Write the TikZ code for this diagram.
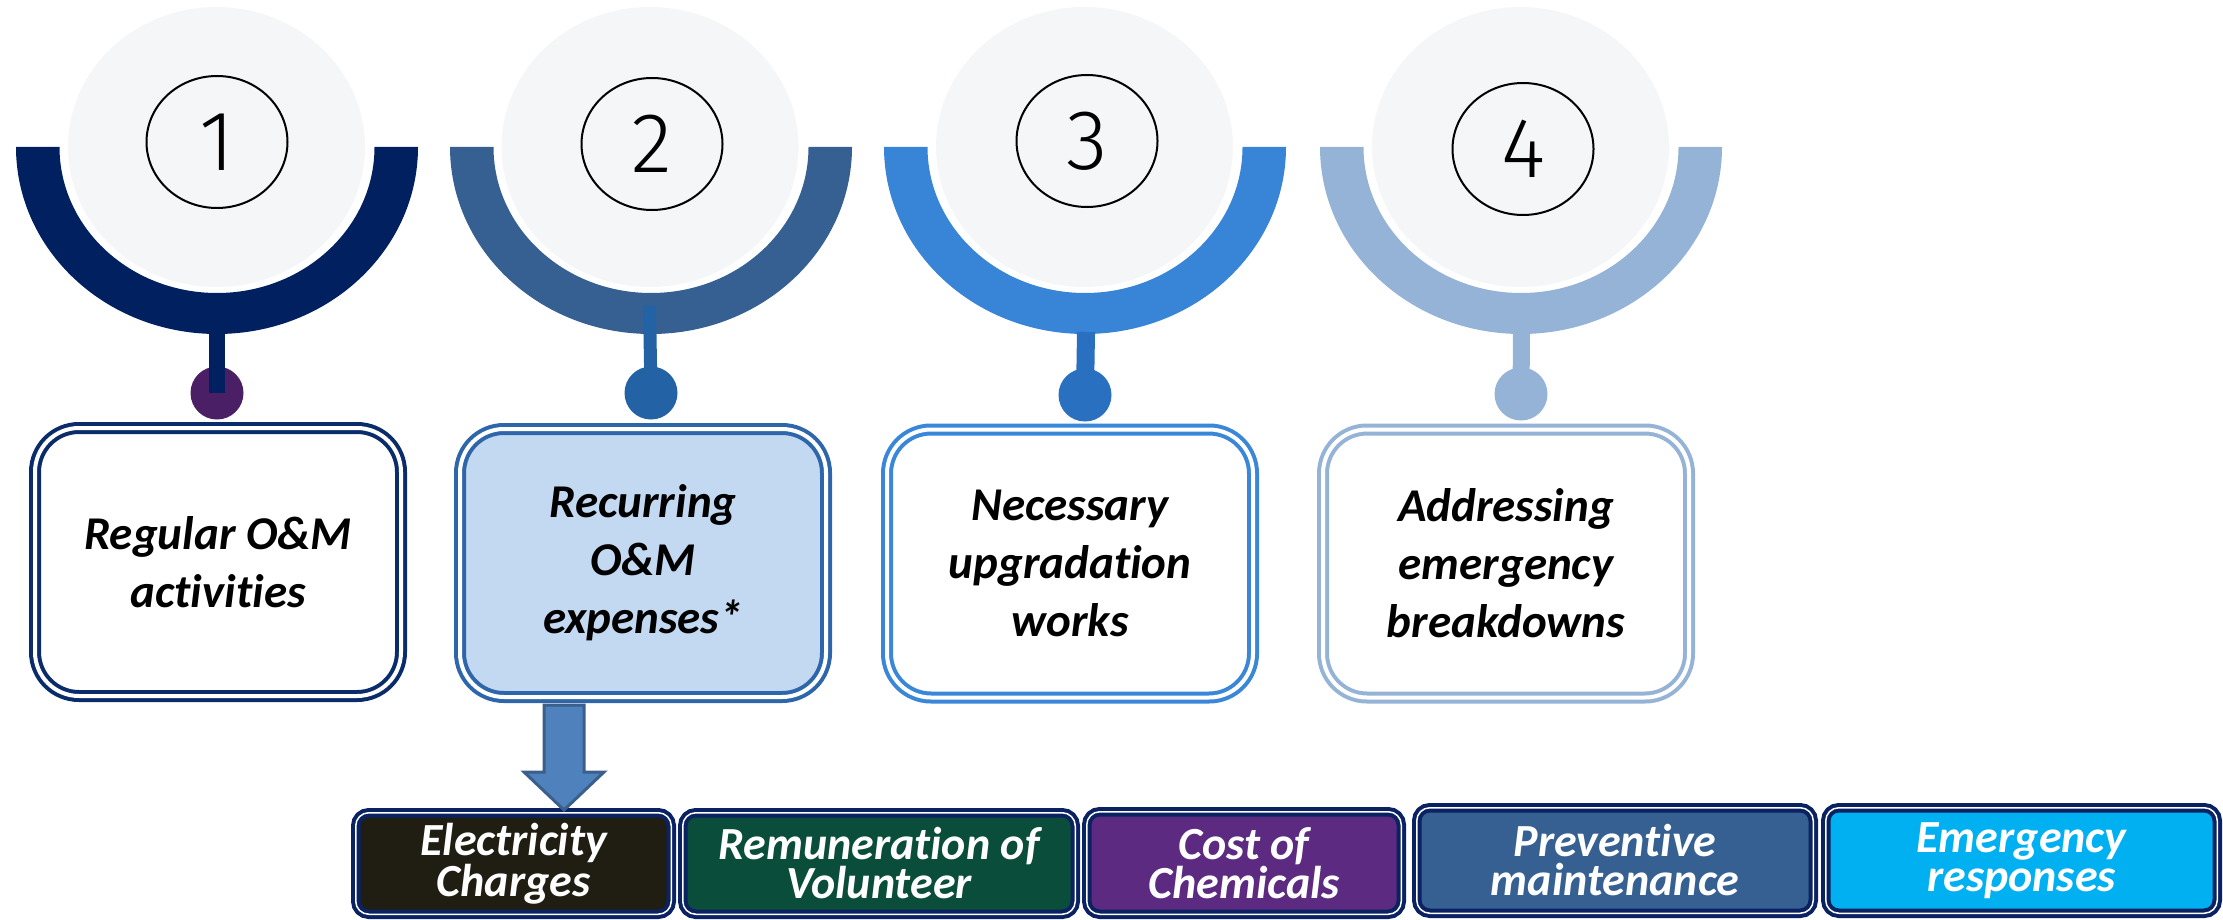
\documentclass[tikz,border=0pt]{standalone}
\usepackage{fontspec}
\setmainfont{Carlito}[Ligatures=NoCommon]
\newfontfamily\numfont{Fira Sans Light}
\usetikzlibrary{shapes.geometric,calc}
\definecolor{diskgrey}{HTML}{F5F6F8}
\definecolor{ringA}{HTML}{002060}
\definecolor{ringB}{HTML}{366092}
\definecolor{ringC}{HTML}{3884D6}
\definecolor{ringD}{HTML}{95B3D7}
\definecolor{dotA}{HTML}{4B1F66}
\definecolor{dotB}{HTML}{2462A6}
\definecolor{dotC}{HTML}{2970C0}
\definecolor{dotD}{HTML}{95B3D7}
\definecolor{boxA}{HTML}{0B2C6B}
\definecolor{boxB}{HTML}{2E66AB}
\definecolor{boxBfill}{HTML}{C3D8F1}
\definecolor{boxC}{HTML}{3A86D8}
\definecolor{boxD}{HTML}{95B3D7}
\definecolor{botnavy}{HTML}{0A2262}
\definecolor{fillE1}{HTML}{201D12}
\definecolor{fillE2}{HTML}{0A4D3A}
\definecolor{fillE3}{HTML}{5C2A80}
\definecolor{fillE4}{HTML}{366092}
\definecolor{fillE5}{HTML}{00B0F0}
\definecolor{arrfill}{HTML}{4F81BD}
\definecolor{arrline}{HTML}{3A5F8B}
\begin{document}
\begin{tikzpicture}[x=1pt,y=-1pt,
  disk/.style={ellipse, fill=diskgrey, minimum width=297pt, minimum height=280pt, inner sep=0pt},
  numc/.style={ellipse, draw=black, line width=2pt, minimum width=141pt, minimum height=132pt, inner sep=0pt, font=\numfont\fontsize{85}{85}\selectfont},
  dotn/.style={circle, minimum size=53pt, inner sep=0pt},
  topbox/.style={rectangle, rounded corners=44pt, line width=4pt, double=white, double distance=4pt, minimum width=366pt, minimum height=268pt, inner sep=0pt, align=center, font=\bfseries\itshape\fontsize{47}{58}\selectfont},
  botbox/.style={rectangle, rounded corners=13pt, draw=botnavy, line width=4pt, double=white, double distance=1.5pt, inner sep=0pt, align=center, text=white, font=\bfseries\itshape\fontsize{46}{39}\selectfont},
  blockarr/.style={fill=arrfill, draw=arrline, line width=3pt, line join=miter},
]
\useasboundingbox (0,0) rectangle (2223,920);

% grey disks
\node[disk] (g1) at (216.5,147) {};
\node[disk] (g2) at (650,147) {};
\node[disk] (g3) at (1084.5,147) {};
\node[disk] (g4) at (1520.5,147) {};

% rings
\foreach \cx/\col in {217/ringA,651/ringB,1085/ringC,1521/ringD}{
  \fill[\col] (\cx-201,147) arc[start angle=180,end angle=0,x radius=201,y radius=187]
    -- (\cx+157.5,147) arc[start angle=0,end angle=180,x radius=157.5,y radius=146] -- cycle;
}

% dots
\node[dotn, fill=dotA] (d1) at (217,393) {};
\node[dotn, fill=dotB] (d2) at (651,393) {};
\node[dotn, fill=dotC] (d3) at (1085,395) {};
\node[dotn, fill=dotD] (d4) at (1521,394) {};

% stems
\coordinate (s1) at (217,330);
\coordinate (s2) at (649.5,306);
\coordinate (s3) at (1086,332);
\coordinate (s4) at (1521.5,332);
\draw[ringA, line width=16pt] (s1) -- (d1.center);
\draw[dotB, line width=13pt] (s2) -- (d2.center);
\draw[dotC, line width=18pt] (s3) -- (d3.center);
\draw[dotD, line width=17pt] (s4) -- (d4.center);

% numbers
\node[numc] (n1) at (217,142) {1};
\node[numc] (n2) at (652,144) {2};
\node[numc] (n3) at (1087,141) {3};
\node[numc] (n4) at (1523,149) {4};

% top boxes
\node[topbox, draw=boxA, fill=white] (b1) at (218,562) {Regular O\&M\\activities};
\node[topbox, draw=boxB, fill=boxBfill] (b2) at (643,563) {Recurring\\O\&M\\expenses*};
\node[topbox, draw=boxC, fill=white] (b3) at (1070,563.5) {Necessary\\upgradation\\works};
\node[topbox, draw=boxD, fill=white] (b4) at (1506,563.5) {Addressing\\emergency\\breakdowns};

% bottom boxes
\node[botbox, fill=fillE1, minimum width=315.5pt, minimum height=101.5pt] (e1) at (513.5,863.5) {Electricity\\Charges};
\node[botbox, fill=fillE2, minimum width=392.5pt, minimum height=101.5pt] (e2) at (879,863.5) {Remuneration of\\Volunteer};
\node[botbox, fill=fillE3, minimum width=314.5pt, minimum height=102.5pt] (e3) at (1244,863) {Cost of\\Chemicals};
\node[botbox, fill=fillE4, minimum width=396.5pt, minimum height=105.5pt] (e4) at (1615,860.5) {Preventive\\maintenance};
\node[botbox, fill=fillE5, minimum width=391.5pt, minimum height=105.5pt] (e5) at (2021.5,860.5) {Emergency\\responses};

% block arrow from box 2 to first expense box
\coordinate (arrS) at (564,705);
\coordinate (arrE) at (564,810);
\draw[blockarr] ($(arrS)+(-20,0)$) -- ($(arrS)+(20,0)$) -- ($(arrE)+(20,-38)$) -- ($(arrE)+(40,-38)$)
  -- (arrE) -- ($(arrE)+(-40,-38)$) -- ($(arrE)+(-20,-38)$) -- cycle;
\end{tikzpicture}
\end{document}
